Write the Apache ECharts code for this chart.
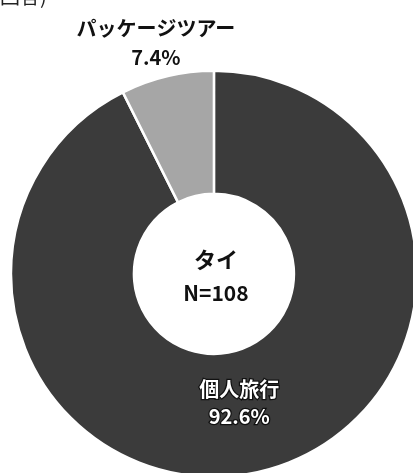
<!DOCTYPE html>
<html>
<head>
<meta charset="utf-8">
<script src="https://cdn.jsdelivr.net/npm/echarts@6/dist/echarts.min.js"></script>
<style>
html,body{margin:0;padding:0;background:#fff;}
#chart{width:413px;height:473px;}
</style>
</head>
<body>
<div id="chart"></div>
<script>
var categories = ['個人旅行', 'パッケージツアー'];
var values = [92.6, 7.4];
var colors = ['#3b3b3b', '#a6a6a6'];
var centerTitle = 'タイ';
var centerN = 'N=108';
var topNote = '回答)';

var font = '"Noto Sans CJK JP", "Noto Sans", sans-serif';
var chart = echarts.init(document.getElementById('chart'));

var data = categories.map(function (c, i) {
  var item = { name: c, value: values[i], itemStyle: { color: colors[i] } };
  if (i === 0) {
    item.label = {
      position: 'inside',
      color: '#fff',
      textBorderColor: '#111',
      textBorderWidth: 2.5,
      fontSize: 20,
      fontWeight: 'bold',
      lineHeight: 27,
      fontFamily: font
    };
  } else {
    item.label = {
      position: 'outside',
      color: '#111',
      fontSize: 20,
      fontWeight: 'bold',
      lineHeight: 29,
      fontFamily: font,
      align: 'center'
    };
    item.labelLine = { show: false, length: 14, length2: 0 };
  }
  return item;
});

var W = 413;
var cx = W * 0.518 + 2;

chart.setOption({
  animation: false,
  graphic: [
    { type: 'text', left: 0, top: -14, style: { text: topNote, fontSize: 20, fontFamily: font, fill: '#222' } },
    { type: 'text', x: cx, y: 260, style: { text: centerTitle, fontSize: 22, fontWeight: 'bold', fontFamily: font, fill: '#111', align: 'center', verticalAlign: 'middle' } },
    { type: 'text', x: cx, y: 293, style: { text: centerN, fontSize: 21, fontWeight: 'bold', fontFamily: font, fill: '#111', align: 'center', verticalAlign: 'middle' } }
  ],
  series: [{
    type: 'pie',
    center: ['51.8%', '57.9%'],
    radius: [80, 203],
    startAngle: 90,
    clockwise: true,
    avoidLabelOverlap: false,
    itemStyle: { borderColor: '#fff', borderWidth: 2.5 },
    label: {
      show: true,
      formatter: function (p) { return p.name + '\n' + p.value.toFixed(1) + '%'; }
    },
    labelLayout: function (p) {
      if (p.dataIndex === 0) return { dx: -8, dy: -12 };
      return { align: 'center', dx: -3, dy: -20 };
    },
    emphasis: { disabled: true },
    data: data
  }]
});
</script>
</body>
</html>
